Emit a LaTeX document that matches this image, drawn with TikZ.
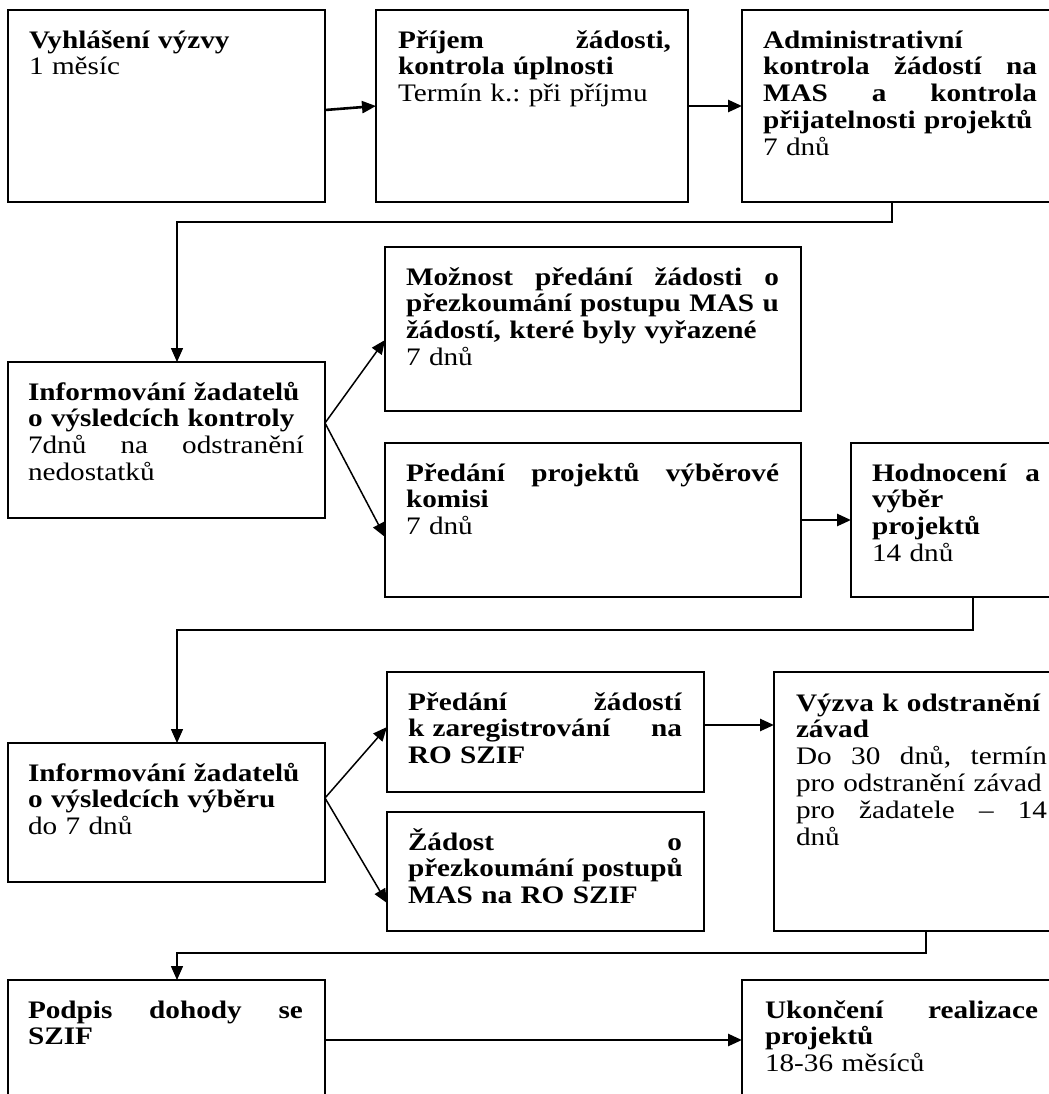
\documentclass[tikz,border=0pt]{standalone}
\usepackage{fontspec}
\setmainfont{Liberation Serif}[FakeStretch=1.16]
\usetikzlibrary{arrows.meta,calc}
\setlength\parindent{0pt}
\frenchspacing
\newcommand\jl[1]{\leavevmode\hbox to\hsize{\spaceskip=\fontdimen2\font plus 1fil\relax #1}}
\newcommand\jx[1]{\leavevmode\hbox to\hsize{#1}}
\newcommand\nl[1]{\mbox{#1}}
\begin{document}
\begin{tikzpicture}[x=0.5pt,y=-0.5pt,
  bx/.style={draw, line width=0.9pt, rectangle, inner sep=0pt, outer sep=0pt, anchor=north west},
  txt/.style={anchor=base west, inner sep=0pt, outer sep=0pt, align=left, font=\fontsize{12.6pt}{13.45pt}\selectfont},
  conn/.style={line width=0.75pt, -{Triangle[length=7pt,width=6pt]}},
  harr/.style={line width=1.3pt, -{Triangle[length=7pt,width=6pt]}}]
\useasboundingbox (0,0) rectangle (1049,1094);
\clip (0,0) rectangle (1049,1094);
% boxes
\node[bx, minimum width=158.5pt, minimum height=96pt] (A) at (8,10) {};
\node[bx, minimum width=156pt, minimum height=96pt] (B) at (376,10) {};
\node[bx, minimum width=164pt, minimum height=96pt] (C) at (742,10) {};
\node[bx, minimum width=158.5pt, minimum height=78pt] (D) at (8,362) {};
\node[bx, minimum width=208pt, minimum height=82pt] (E) at (385,247) {};
\node[bx, minimum width=208pt, minimum height=77pt] (F) at (385,443) {};
\node[bx, minimum width=122pt, minimum height=77pt] (G) at (851,443) {};
\node[bx, minimum width=158.5pt, minimum height=69.5pt] (H) at (8,743) {};
\node[bx, minimum width=158.5pt, minimum height=60pt] (I) at (387,672) {};
\node[bx, minimum width=158.5pt, minimum height=59.5pt] (J) at (387,812) {};
\node[bx, minimum width=152pt, minimum height=129.5pt] (K) at (774,672) {};
\node[bx, minimum width=158.5pt, minimum height=70pt] (L) at (8,980) {};
\node[bx, minimum width=164pt, minimum height=70pt] (M) at (742,980) {};
% texts
\node[txt, text width=138.5pt] (tA) at (29,48) {\nl{\textbf{Vyhlášení výzvy}}\\\nl{1 měsíc}};
\node[txt, text width=136.5pt] (tB) at (398,48) {\jl{\textbf{Příjem žádosti,}}\\\nl{\textbf{kontrola úplnosti}}\\\nl{Termín k.: při příjmu}};
\node[txt, text width=137pt] (tC) at (763,48) {\nl{\textbf{Administrativní}}\\\jl{\textbf{kontrola žádostí na}}\\\jl{\textbf{MAS a kontrola}}\\\nl{\textbf{přijatelnosti projektů}}\\\nl{7 dnů}};
\node[txt, text width=138pt] (tD) at (28,400) {\nl{\textbf{Informování žadatelů}}\\\nl{\textbf{o výsledcích kontroly}}\\\jl{7dnů na odstranění}\\\nl{nedostatků}};
\node[txt, text width=186.5pt] (tE) at (406,285) {\jl{\textbf{Možnost předání žádosti o}}\\\jl{\textbf{přezkoumání postupu MAS u}}\\\nl{\textbf{žádostí, které byly vyřazené}}\\\nl{7 dnů}};
\node[txt, text width=186.5pt] (tF) at (406,481) {\jl{\textbf{Předání projektů výběrové}}\\\nl{\textbf{komisi}}\\\nl{7 dnů}};
\node[txt, text width=84pt] (tG) at (872,481) {\jl{\textbf{Hodnocení a}}\\\nl{\textbf{výběr}}\\\nl{\textbf{projektů}}\\\nl{14 dnů}};
\node[txt, text width=138pt] (tH) at (28,781) {\nl{\textbf{Informování žadatelů}}\\\nl{\textbf{o výsledcích výběru}}\\\nl{do 7 dnů}};
\node[txt, text width=137pt] (tI) at (408,710) {\jl{\textbf{Předání žádostí}}\\\jx{\textbf{k zaregistrování\hfill na}}\\\nl{\textbf{RO SZIF}}};
\node[txt, text width=137pt] (tJ) at (408,850) {\jl{\textbf{Žádost o}}\\\nl{\textbf{přezkoumání postupů}}\\\nl{\textbf{MAS na RO SZIF}}};
\node[txt, text width=125.5pt] (tK) at (796,711) {\nl{\textbf{Výzva k odstranění}}\\\nl{\textbf{závad}}\\\jl{Do 30 dnů, termín}\\\nl{pro odstranění závad}\\\jl{pro žadatele – 14}\\\nl{dnů}};
\node[txt, text width=137.5pt] (tL) at (28,1018) {\jl{\textbf{Podpis dohody se}}\\\nl{\textbf{SZIF}}};
\node[txt, text width=136.5pt] (tM) at (765,1018) {\jl{\textbf{Ukončení realizace}}\\\nl{\textbf{projektů}}\\\nl{18-36 měsíců}};
% connectors
\draw[harr] ([yshift=-2pt]A.east) -- (B.west);
\draw[harr] (B.east) -- (B.east -| C.west);
\draw[conn] ([xshift=-7pt]C.south) -- ++(0,20) -| ([xshift=5.25pt]D.north);
\draw[conn] ([yshift=8.5pt]D.east) -- ([yshift=-5.5pt]E.west);
\draw[conn] ([yshift=8.5pt]D.east) -- ([yshift=-8.5pt]F.west);
\draw[harr] (F.east) -- (F.east -| G.west);
\draw[conn] (G.south) -- ++(0,33) -| ([xshift=5.25pt]H.north);
\draw[conn] ([yshift=7.25pt]H.east) -- ([yshift=2.5pt]I.west);
\draw[conn] ([yshift=7.25pt]H.east) -- ([yshift=-15.75pt]J.west);
\coordinate (ik) at ([yshift=3.5pt]I.east);
\draw[harr] (ik) -- (ik -| K.west);
\draw[conn] (K.south) -- ++(0,22) -| ([xshift=5.25pt]L.north);
\coordinate (lm) at ([yshift=5pt]L.east);
\draw[harr] (lm) -- (lm -| M.west);
\end{tikzpicture}
\end{document}
